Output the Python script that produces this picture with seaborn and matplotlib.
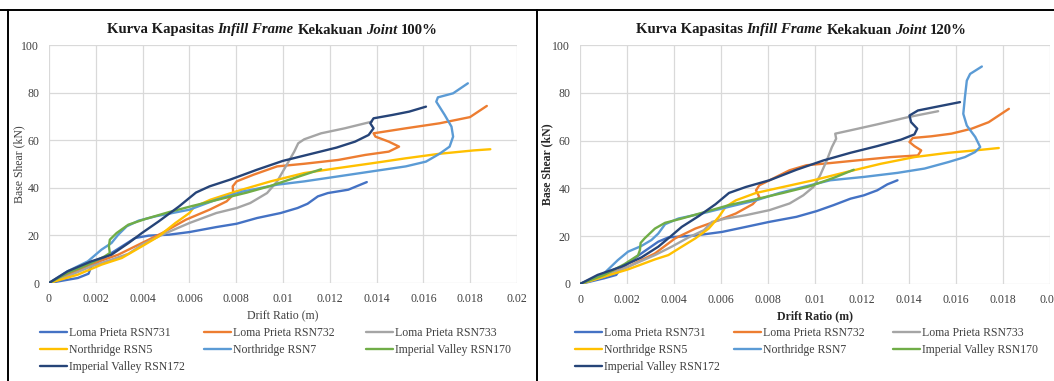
import numpy as np
import pandas as pd
import matplotlib
matplotlib.use("Agg")
import matplotlib.pyplot as plt
from matplotlib.lines import Line2D
import seaborn as sns

# ---------------- data ----------------
series_names = ["Loma Prieta RSN731", "Loma Prieta RSN732", "Loma Prieta RSN733",
                "Northridge RSN5", "Northridge RSN7", "Imperial Valley RSN170",
                "Imperial Valley RSN172"]
series_colors = ["#4472C4", "#ED7D31", "#A5A5A5", "#FFC000", "#5B9BD5", "#70AD47", "#264478"]

x_ticks = [0, 0.002, 0.004, 0.006, 0.008, 0.01, 0.012, 0.014, 0.016, 0.018, 0.02]
x_tick_labels = ["0", "0.002", "0.004", "0.006", "0.008", "0.01", "0.012", "0.014", "0.016", "0.018", "0.02"]
y_ticks = [0, 20, 40, 60, 80, 100]

# Joint 100 %
a731_x = [0, 0.00123, 0.00169, 0.00181, 0.00267, 0.00368, 0.00426, 0.00513, 0.0060, 0.00715, 0.00802, 0.00889, 0.0099, 0.01062, 0.01105, 0.01149, 0.01192, 0.01279, 0.01358]
a731_y = [0, 2.1, 3.9, 7.0, 12.6, 18.9, 19.9, 20.3, 21.4, 23.5, 24.9, 27.3, 29.4, 31.5, 33.3, 36.4, 37.8, 39.2, 42.4]
a732_x = [0, 0.00079, 0.00195, 0.00296, 0.00397, 0.00484, 0.00585, 0.00686, 0.00759, 0.00788, 0.00785, 0.00802, 0.00874, 0.00975, 0.01091, 0.01236, 0.01351, 0.01452, 0.01496, 0.01452, 0.01395, 0.01387, 0.01525, 0.01669, 0.01799, 0.01871]
a732_y = [0, 3.5, 8.4, 11.9, 16.8, 21.0, 26.6, 30.8, 34.3, 37.1, 40.6, 42.7, 45.5, 49.0, 50.1, 51.7, 53.8, 55.2, 57.3, 59.4, 61.5, 62.9, 65.0, 67.1, 69.7, 74.4]
a733_x = [0, 0.00079, 0.00181, 0.00267, 0.0034, 0.00397, 0.00484, 0.006, 0.00715, 0.00802, 0.0086, 0.00932, 0.00975, 0.01012, 0.01048, 0.01065, 0.01091, 0.01163, 0.01264, 0.0138]
a733_y = [0, 2.8, 7.0, 9.8, 12.3, 16.1, 20.3, 25.2, 29.4, 31.5, 33.6, 37.8, 42.7, 49.0, 55.2, 58.7, 60.4, 62.9, 65.0, 67.8]
a5_x = [0, 0.00123, 0.00224, 0.00311, 0.00397, 0.00469, 0.0054, 0.006, 0.0062, 0.0069, 0.0080, 0.00947, 0.01091, 0.01236, 0.0138, 0.01525, 0.01669, 0.01814, 0.01886]
a5_y = [0, 3.5, 7.7, 10.5, 15.4, 19.6, 25.2, 29.4, 31.9, 35.0, 38.5, 42.7, 46.2, 48.3, 50.3, 52.4, 54.3, 55.7, 56.2]
a7_x = [0, 0.00079, 0.00166, 0.00224, 0.00267, 0.00296, 0.00332, 0.00383, 0.00455, 0.006, 0.00715, 0.00831, 0.00975, 0.01091, 0.01236, 0.0138, 0.01525, 0.01611, 0.01669, 0.01712, 0.01727, 0.0172, 0.01691, 0.01655, 0.01662, 0.01727, 0.0179]
a7_y = [0, 4.9, 9.1, 14.0, 16.8, 20.3, 23.8, 26.2, 28.0, 30.8, 35.0, 38.5, 41.3, 42.7, 44.8, 46.9, 49.0, 51.0, 54.3, 57.3, 61.5, 65.7, 70.6, 76.2, 78.0, 79.7, 83.9]
a170_x = [0, 0.00079, 0.00166, 0.00238, 0.0026, 0.00256, 0.0026, 0.00289, 0.00339, 0.00412, 0.00513, 0.00614, 0.0073, 0.00846, 0.00947, 0.01048, 0.01163]
a170_y = [0, 4.2, 7.7, 11.2, 12.6, 15.4, 18.2, 21.0, 24.5, 26.9, 29.8, 32.4, 35.2, 38.0, 40.8, 44.1, 47.8]
a172_x = [0, 0.00079, 0.00181, 0.00267, 0.0034, 0.00397, 0.00469, 0.00556, 0.00628, 0.00686, 0.00773, 0.00889, 0.00999, 0.01114, 0.01229, 0.01308, 0.01366, 0.01387, 0.01373, 0.01387, 0.01467, 0.01539, 0.01611]
a172_y = [0, 4.9, 9.1, 11.9, 16.8, 21.0, 25.9, 32.2, 38.0, 40.6, 43.4, 47.6, 51.3, 54.1, 56.9, 59.4, 62.2, 65.0, 67.1, 69.2, 70.6, 72.0, 74.1]

# Joint 120 %
b731_x = [0, 0.00103, 0.00154, 0.00168, 0.00204, 0.00261, 0.00333, 0.00376, 0.00491, 0.00605, 0.00706, 0.00806, 0.00921, 0.01007, 0.01079, 0.01151, 0.01208, 0.01265, 0.01308, 0.01351]
b731_y = [0, 2.4, 3.8, 5.8, 8.6, 12.8, 17.7, 19.5, 20.3, 21.8, 23.9, 26.0, 28.1, 30.5, 33.0, 35.7, 37.1, 39.2, 41.7, 43.4]
b732_x = [0, 0.00089, 0.00204, 0.00319, 0.00405, 0.00491, 0.00591, 0.00663, 0.00735, 0.00763, 0.00749, 0.00763, 0.00821, 0.00892, 0.00964, 0.01065, 0.01208, 0.01323, 0.01438, 0.01452, 0.01423, 0.01402, 0.01416, 0.01495, 0.01581, 0.01667, 0.01739, 0.01825]
b732_y = [0, 3.1, 7.2, 12.8, 19.1, 23.2, 26.7, 29.5, 33.4, 36.4, 39.2, 41.3, 44.1, 47.6, 49.7, 50.6, 52.0, 53.1, 53.8, 55.9, 57.7, 59.4, 61.1, 61.8, 62.9, 65.0, 67.7, 73.3]
b733_x = [0, 0.00103, 0.00204, 0.00319, 0.0039, 0.00462, 0.00527, 0.00562, 0.0062, 0.00706, 0.00806, 0.00892, 0.0095, 0.00993, 0.01022, 0.0105, 0.01072, 0.0109, 0.01086, 0.01151, 0.01265, 0.01395, 0.01524]
b733_y = [0, 3.1, 7.2, 12.1, 15.6, 19.5, 22.5, 26.0, 27.4, 28.8, 30.9, 33.7, 37.1, 40.6, 45.5, 51.7, 57.3, 60.8, 62.9, 64.3, 66.8, 69.8, 72.3]
b5_x = [0, 0.00103, 0.00204, 0.00319, 0.00376, 0.00433, 0.00491, 0.00548, 0.00591, 0.0062, 0.00663, 0.00749, 0.00864, 0.00993, 0.01136, 0.0128, 0.01423, 0.01567, 0.01682, 0.01782]
b5_y = [0, 3.1, 6.1, 10.3, 12.1, 15.6, 19.1, 23.2, 28.1, 32.3, 35.0, 38.1, 40.6, 43.4, 46.9, 50.3, 53.1, 54.9, 55.9, 56.9]
b7_x = [0, 0.00103, 0.00161, 0.00204, 0.00261, 0.00304, 0.00333, 0.00362, 0.00419, 0.00519, 0.00634, 0.00749, 0.00849, 0.0095, 0.01065, 0.01208, 0.01351, 0.01466, 0.01567, 0.01638, 0.01681, 0.01703, 0.01682, 0.01646, 0.01631, 0.01638, 0.01646, 0.0166, 0.0171]
b7_y = [0, 4.5, 10.0, 13.5, 15.9, 18.4, 21.1, 25.0, 27.4, 29.5, 32.3, 35.0, 38.1, 40.6, 43.4, 44.8, 46.5, 48.3, 51.0, 53.1, 55.2, 57.3, 61.5, 66.3, 71.2, 78.2, 85.1, 87.9, 91.0]
b170_x = [0, 0.00103, 0.00189, 0.00247, 0.00255, 0.00258, 0.00275, 0.00319, 0.00362, 0.00433, 0.00534, 0.00634, 0.00749, 0.00864, 0.00978, 0.01079, 0.01165]
b170_y = [0, 3.8, 8.3, 12.0, 14.2, 17.2, 19.1, 23.2, 25.6, 27.4, 30.2, 33.0, 35.5, 38.1, 40.9, 44.4, 47.8]
b172_x = [0, 0.00075, 0.00175, 0.00261, 0.00333, 0.00383, 0.00433, 0.00505, 0.00577, 0.00634, 0.00706, 0.00806, 0.00921, 0.01036, 0.01151, 0.01265, 0.01366, 0.01423, 0.01435, 0.01409, 0.01402, 0.01438, 0.01509, 0.01617]
b172_y = [0, 3.8, 7.2, 11.1, 15.6, 19.7, 23.9, 28.4, 33.4, 38.1, 40.6, 43.4, 47.8, 51.7, 54.9, 57.7, 60.4, 62.6, 65.0, 67.7, 70.5, 72.6, 74.0, 76.1]

panel100 = [(a731_x, a731_y), (a732_x, a732_y), (a733_x, a733_y), (a5_x, a5_y),
            (a7_x, a7_y), (a170_x, a170_y), (a172_x, a172_y)]
panel120 = [(b731_x, b731_y), (b732_x, b732_y), (b733_x, b733_y), (b5_x, b5_y),
            (b7_x, b7_y), (b170_x, b170_y), (b172_x, b172_y)]


def to_frame(panel):
    rows = []
    for name, (xs, ys) in zip(series_names, panel):
        for i, (xv, yv) in enumerate(zip(xs, ys)):
            rows.append({"series": name, "order": i, "x": xv, "y": yv})
    return pd.DataFrame(rows)


# ---------------- figure ----------------
W, H = 1054, 381
sns.set_theme(style="white")
plt.rcParams["font.family"] = ["Liberation Serif", "DejaVu Serif"]
fig = plt.figure(figsize=(W / 100, H / 100), dpi=100)

TXT = "#404040"
GRID = "#D9D9D9"


def px_axes(x0, x1, ytop, ybot):
    return fig.add_axes([x0 / W, 1 - ybot / H, (x1 - x0) / W, (ybot - ytop) / H])


def rich_text(xc, yc, pieces, size, color="black"):
    r = fig.canvas.get_renderer()
    space = size * 100 / 72 * 0.25
    objs, widths = [], []
    for s, style in pieces:
        t = fig.text(0, 0, s, fontsize=size, fontweight="bold", fontstyle=style,
                     color=color, ha="left", va="center")
        widths.append(t.get_window_extent(renderer=r).width)
        objs.append(t)
    total = sum(widths) + space * (len(pieces) - 1)
    x = xc - total / 2
    for t, w in zip(objs, widths):
        t.set_position((x / W, 1 - yc / H))
        x += w + space


def draw_panel(ax, panel, joint, bold_labels, title_xc, ylab_x, legend_cols):
    df = to_frame(panel)
    sns.lineplot(data=df, x="x", y="y", hue="series", hue_order=series_names,
                 palette=series_colors, sort=False, estimator=None, units="series",
                 linewidth=1.7, ax=ax, legend=True)
    ax.set_xlim(0, 0.02)
    ax.set_ylim(0, 100)
    ax.set_xticks(x_ticks)
    ax.set_xticklabels(x_tick_labels)
    ax.set_yticks(y_ticks)
    ax.grid(True, color=GRID, linewidth=0.9)
    ax.set_axisbelow(True)
    for sp in ax.spines.values():
        sp.set_visible(False)
    ax.tick_params(axis="both", length=0, labelsize=8.5, labelcolor=TXT)
    ax.tick_params(axis="x", pad=7)
    ax.tick_params(axis="y", pad=7)
    for lab in ax.get_xticklabels() + ax.get_yticklabels():
        lab.set_clip_on(False)
    ax.set_xlabel("")
    ax.set_ylabel("")
    bbox = ax.get_position()
    xc = (bbox.x0 + bbox.x1) / 2
    wt = "bold" if bold_labels else "normal"
    lc = "#262626" if bold_labels else TXT
    fig.text(xc, 1 - 316 / H, "Drift Ratio (m)", ha="center", va="center",
             fontsize=8.5, fontweight=wt, color=lc)
    fig.text(ylab_x / W, 1 - 164 / H, "Base Shear (kN)", ha="center", va="center",
             rotation=90, fontsize=8.5, fontweight=wt, color=lc)

    handles, labels = ax.get_legend_handles_labels()
    if ax.get_legend() is not None:
        ax.get_legend().remove()
    lookup = dict(zip(labels, handles))
    # Excel fills the legend row by row, 3 entries per row
    for c, lx in enumerate(legend_cols):
        names = series_names[c::3]
        hs = [lookup[n] for n in names]
        leg = fig.legend(hs, names, loc="upper left",
                         bbox_to_anchor=(lx / W, 1 - 327 / H), bbox_transform=fig.transFigure,
                         frameon=False, fontsize=8.5, handlelength=2.3, handletextpad=0.15,
                         labelspacing=0.42, borderaxespad=0, borderpad=0)
        for t in leg.get_texts():
            t.set_color(TXT)
        for l in leg.get_lines():
            l.set_linewidth(1.7)

    rich_text(title_xc, 30, [("Kurva Kapasitas", "normal"), ("Infill Frame", "italic"),
                             ("Kekakuan", "normal"), ("Joint", "italic"), (joint, "normal")],
              10.6, color="#1a1a1a")


ax1 = px_axes(49, 517, 45, 283)
ax2 = px_axes(580, 1050, 45, 284)
draw_panel(ax1, panel100, "100%", False, 272.5, 19, [40, 204, 366])
draw_panel(ax2, panel120, "120%", True, 801.5, 547, [575, 734, 893])

# chart-area borders
def fig_line(x0, y0, x1, y1):
    fig.add_artist(Line2D([x0 / W, x1 / W], [1 - y0 / H, 1 - y1 / H], color="black",
                          linewidth=1.4, transform=fig.transFigure))

fig_line(0, 10, W, 10)
fig_line(8, 10, 8, H)
fig_line(537, 10, 537, H)

fig.savefig("out.png", dpi=100)
